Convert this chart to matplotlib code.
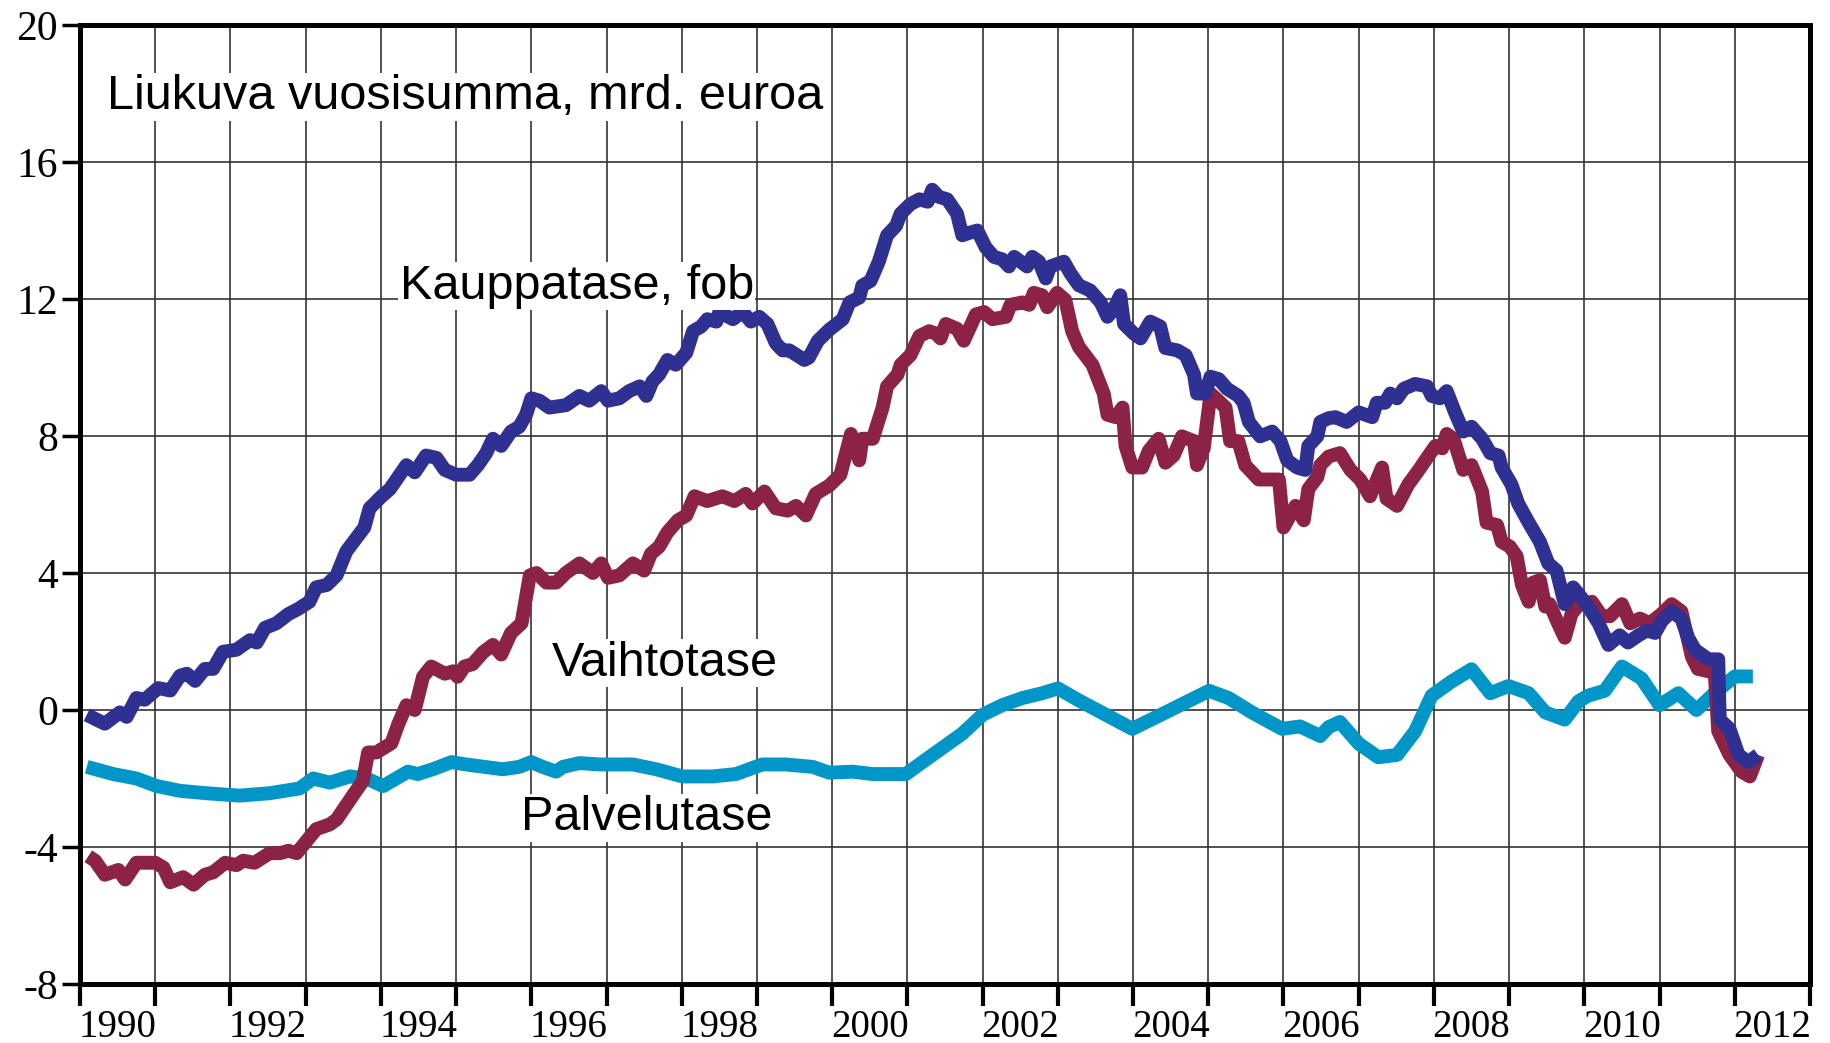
import matplotlib
matplotlib.use("Agg")
import matplotlib.pyplot as plt
import numpy as np

# Kauppatase, fob (liukuva vuosisumma, mrd. euroa)
kauppa_x = [1990.09, 1990.33, 1990.53, 1990.62, 1990.75, 1990.86, 1991.04, 1991.20, 1991.33, 1991.42,
            1991.53, 1991.66, 1991.77, 1991.90, 1992.08, 1992.26, 1992.35, 1992.46, 1992.61, 1992.77,
            1992.90, 1993.05, 1993.14, 1993.28, 1993.41, 1993.54, 1993.78, 1993.85, 1994.01, 1994.12,
            1994.34, 1994.45, 1994.60, 1994.74, 1994.85, 1995.00, 1995.18, 1995.29, 1995.40, 1995.49,
            1995.60, 1995.73, 1995.84, 1995.93, 1996.00, 1996.11, 1996.24, 1996.46, 1996.64, 1996.77,
            1996.93, 1997.02, 1997.17, 1997.30, 1997.44, 1997.53, 1997.61, 1997.70, 1997.81, 1997.92,
            1998.06, 1998.15, 1998.26, 1998.34, 1998.46, 1998.50, 1998.68, 1998.81, 1998.92, 1999.03,
            1999.14, 1999.25, 1999.34, 1999.43, 1999.63, 1999.69, 1999.81, 1999.96, 2000.14, 2000.23,
            2000.36, 2000.40, 2000.51, 2000.62, 2000.73, 2000.85, 2000.91, 2001.04, 2001.16, 2001.27,
            2001.33, 2001.42, 2001.53, 2001.66, 2001.73, 2001.82, 2001.93, 2002.04, 2002.15, 2002.26,
            2002.35, 2002.42, 2002.59, 2002.66, 2002.75, 2002.84, 2002.90, 2003.08, 2003.17, 2003.28,
            2003.43, 2003.57, 2003.66, 2003.74, 2003.83, 2003.88, 2004.01, 2004.10, 2004.23, 2004.36,
            2004.43, 2004.59, 2004.70, 2004.81, 2004.85, 2004.96, 2005.03, 2005.14, 2005.25, 2005.40,
            2005.47, 2005.54, 2005.69, 2005.85, 2005.96, 2006.05, 2006.18, 2006.29, 2006.33, 2006.45,
            2006.49, 2006.60, 2006.69, 2006.84, 2007.00, 2007.18, 2007.24, 2007.35, 2007.42, 2007.51,
            2007.60, 2007.75, 2007.91, 2007.97, 2008.08, 2008.17, 2008.28, 2008.39, 2008.50, 2008.64,
            2008.75, 2008.86, 2008.90, 2009.03, 2009.12, 2009.26, 2009.41, 2009.52, 2009.63, 2009.74,
            2009.85, 2009.92, 2010.05, 2010.19, 2010.32, 2010.47, 2010.58, 2010.72, 2010.83, 2010.94,
            2011.03, 2011.16, 2011.29, 2011.38, 2011.47, 2011.65, 2011.78, 2011.80, 2011.93, 2012.05,
            2012.18, 2012.31]
kauppa_y = [-0.14, -0.40, -0.07, -0.20, 0.35, 0.30, 0.64, 0.57, 1.00, 1.06,
            0.85, 1.20, 1.20, 1.70, 1.76, 2.04, 1.97, 2.40, 2.53, 2.80,
            2.95, 3.16, 3.58, 3.65, 3.93, 4.63, 5.33, 5.89, 6.24, 6.45,
            7.15, 6.94, 7.43, 7.36, 7.01, 6.87, 6.87, 7.15, 7.50, 7.92,
            7.71, 8.13, 8.27, 8.62, 9.10, 9.03, 8.83, 8.90, 9.17, 9.03,
            9.31, 9.03, 9.10, 9.31, 9.45, 9.17, 9.59, 9.80, 10.22, 10.08,
            10.43, 11.06, 11.20, 11.41, 11.34, 11.62, 11.41, 11.62, 11.34, 11.48,
            11.27, 10.71, 10.50, 10.50, 10.22, 10.29, 10.78, 11.10, 11.41, 11.90,
            12.04, 12.39, 12.53, 13.09, 13.86, 14.14, 14.49, 14.77, 14.91, 14.84,
            15.19, 14.98, 14.91, 14.49, 13.86, 13.93, 14.00, 13.51, 13.23, 13.16,
            12.95, 13.23, 12.95, 13.23, 13.09, 12.60, 12.95, 13.09, 12.74, 12.40,
            12.25, 11.90, 11.48, 11.69, 12.11, 11.27, 10.99, 10.85, 11.34, 11.20,
            10.57, 10.50, 10.36, 9.80, 9.24, 9.24, 9.73, 9.66, 9.38, 9.17,
            8.97, 8.41, 7.99, 8.13, 7.85, 7.29, 7.08, 7.01, 7.71, 7.99,
            8.41, 8.52, 8.55, 8.41, 8.69, 8.55, 8.97, 8.97, 9.24, 9.10,
            9.38, 9.52, 9.45, 9.17, 9.10, 9.31, 8.69, 8.13, 8.27, 7.92,
            7.50, 7.43, 7.08, 6.59, 6.03, 5.47, 4.91, 4.28, 4.07, 3.09,
            3.58, 3.40, 3.02, 2.53, 1.90, 2.18, 1.97, 2.18, 2.32, 2.25,
            2.60, 2.88, 2.67, 2.11, 1.76, 1.48, 1.48, -0.28, -0.55, -1.31,
            -1.52, -1.31]

# Vaihtotase
vaihto_x = [1990.11, 1990.20, 1990.33, 1990.51, 1990.60, 1990.75, 1991.00, 1991.11, 1991.20, 1991.37,
            1991.51, 1991.66, 1991.77, 1991.93, 1992.08, 1992.17, 1992.32, 1992.52, 1992.66, 1992.77,
            1992.88, 1993.01, 1993.14, 1993.32, 1993.41, 1993.54, 1993.67, 1993.76, 1993.83, 1993.94,
            1994.14, 1994.23, 1994.34, 1994.45, 1994.56, 1994.67, 1994.85, 1994.96, 1995.02, 1995.11,
            1995.22, 1995.36, 1995.49, 1995.60, 1995.73, 1995.87, 1995.98, 1996.07, 1996.20, 1996.33,
            1996.46, 1996.64, 1996.82, 1996.93, 1997.02, 1997.17, 1997.35, 1997.50, 1997.59, 1997.70,
            1997.81, 1997.95, 1998.06, 1998.17, 1998.34, 1998.54, 1998.70, 1998.85, 1998.94, 1999.10,
            1999.25, 1999.41, 1999.52, 1999.65, 1999.78, 1999.96, 2000.11, 2000.25, 2000.36, 2000.40,
            2000.54, 2000.67, 2000.73, 2000.87, 2000.91, 2001.04, 2001.16, 2001.29, 2001.38, 2001.44,
            2001.51, 2001.66, 2001.75, 2001.91, 2002.02, 2002.13, 2002.31, 2002.37, 2002.53, 2002.62,
            2002.68, 2002.79, 2002.86, 2002.99, 2003.10, 2003.19, 2003.28, 2003.46, 2003.61, 2003.66,
            2003.77, 2003.86, 2003.90, 2003.99, 2004.12, 2004.21, 2004.34, 2004.43, 2004.54, 2004.65,
            2004.81, 2004.85, 2004.94, 2005.03, 2005.10, 2005.23, 2005.29, 2005.40, 2005.49, 2005.67,
            2005.94, 2006.00, 2006.16, 2006.27, 2006.33, 2006.45, 2006.49, 2006.60, 2006.75, 2006.89,
            2007.02, 2007.15, 2007.31, 2007.37, 2007.51, 2007.66, 2007.80, 2007.93, 2008.02, 2008.11,
            2008.17, 2008.26, 2008.39, 2008.50, 2008.64, 2008.70, 2008.84, 2008.90, 2009.01, 2009.10,
            2009.17, 2009.26, 2009.32, 2009.41, 2009.48, 2009.54, 2009.65, 2009.74, 2009.83, 2009.92,
            2010.10, 2010.23, 2010.34, 2010.50, 2010.61, 2010.74, 2010.87, 2011.03, 2011.16, 2011.29,
            2011.43, 2011.51, 2011.65, 2011.73, 2011.78, 2011.93, 2012.09, 2012.20, 2012.31]
vaihto_y = [-4.27, -4.40, -4.81, -4.67, -4.95, -4.46, -4.46, -4.60, -5.03, -4.88,
            -5.10, -4.81, -4.74, -4.46, -4.53, -4.40, -4.46, -4.18, -4.18, -4.11,
            -4.18, -3.83, -3.48, -3.34, -3.20, -2.78, -2.36, -2.08, -1.24, -1.24,
            -0.97, -0.42, 0.14, 0.00, 0.97, 1.27, 1.06, 1.13, 0.97, 1.27,
            1.34, 1.69, 1.90, 1.62, 2.25, 2.53, 3.93, 4.00, 3.72, 3.72,
            4.00, 4.28, 4.00, 4.28, 3.86, 3.93, 4.28, 4.07, 4.56, 4.77,
            5.19, 5.54, 5.68, 6.24, 6.10, 6.24, 6.10, 6.31, 6.03, 6.38,
            5.89, 5.82, 5.96, 5.68, 6.31, 6.55, 6.87, 8.06, 7.29, 7.92,
            7.92, 8.83, 9.45, 9.80, 10.08, 10.36, 10.92, 11.06, 10.99, 10.85,
            11.27, 11.13, 10.78, 11.55, 11.62, 11.41, 11.48, 11.83, 11.90, 11.83,
            12.18, 12.11, 11.76, 12.18, 11.97, 11.06, 10.60, 10.08, 9.24, 8.62,
            8.55, 8.83, 7.71, 7.08, 7.08, 7.57, 7.92, 7.22, 7.43, 7.99,
            7.85, 7.15, 7.64, 9.24, 9.10, 8.83, 7.85, 7.85, 7.15, 6.73,
            6.73, 5.33, 5.96, 5.54, 6.45, 6.80, 7.15, 7.40, 7.50, 7.01,
            6.73, 6.24, 7.08, 6.17, 5.96, 6.59, 7.01, 7.43, 7.71, 7.64,
            8.06, 7.92, 7.01, 7.15, 6.38, 5.47, 5.40, 4.91, 4.77, 4.49,
            3.65, 3.16, 3.72, 3.79, 3.02, 3.09, 2.53, 2.11, 2.81, 3.05,
            3.16, 2.74, 2.74, 3.09, 2.53, 2.67, 2.53, 2.81, 3.09, 2.88,
            1.55, 1.20, 1.13, 1.20, -0.62, -1.31, -1.80, -1.94, -1.31]

# Palvelutase
palvelu_x = [1990.09, 1990.44, 1990.75, 1991.02, 1991.33, 1991.68, 1992.12, 1992.52, 1992.92, 1993.10,
             1993.32, 1993.59, 1993.81, 1994.03, 1994.36, 1994.49, 1994.69, 1994.94, 1995.13, 1995.62,
             1995.84, 1996.00, 1996.15, 1996.33, 1996.42, 1996.64, 1996.91, 1997.35, 1997.66, 1998.01,
             1998.41, 1998.72, 1999.07, 1999.38, 1999.74, 1999.96, 2000.27, 2000.54, 2000.98, 2001.29,
             2001.73, 2002.00, 2002.26, 2002.53, 2002.79, 2003.00, 2003.28, 2003.99, 2004.25, 2005.01,
             2005.27, 2005.58, 2005.98, 2006.22, 2006.49, 2006.60, 2006.75, 2007.00, 2007.26, 2007.51,
             2007.75, 2007.97, 2008.24, 2008.50, 2008.75, 2008.99, 2009.26, 2009.48, 2009.74, 2009.92,
             2010.05, 2010.27, 2010.50, 2010.76, 2011.00, 2011.25, 2011.49, 2011.73, 2012.00, 2012.24]
palvelu_y = [-1.66, -1.87, -2.00, -2.22, -2.36, -2.43, -2.50, -2.43, -2.29, -2.00,
             -2.12, -1.94, -2.00, -2.22, -1.80, -1.87, -1.73, -1.52, -1.59, -1.73,
             -1.66, -1.52, -1.66, -1.80, -1.66, -1.55, -1.59, -1.59, -1.73, -1.94,
             -1.94, -1.87, -1.59, -1.59, -1.66, -1.83, -1.80, -1.87, -1.87, -1.38,
             -0.69, -0.14, 0.14, 0.35, 0.49, 0.63, 0.28, -0.55, -0.27, 0.56,
             0.35, -0.07, -0.55, -0.48, -0.76, -0.50, -0.35, -0.98, -1.38, -1.31,
             -0.62, 0.42, 0.84, 1.19, 0.49, 0.70, 0.49, -0.07, -0.28, 0.25,
             0.42, 0.56, 1.27, 0.92, 0.14, 0.49, 0.00, 0.49, 0.98, 0.98]

years = np.arange(1990, 2014)
label_years = np.arange(1990, 2013, 2)
yticks = np.arange(-8, 21, 4)

fig = plt.figure(figsize=(18.31, 10.43), dpi=100)
ax = fig.add_axes([80 / 1831, 59 / 1043, 1730 / 1831, 959 / 1043])

ax.plot(palvelu_x, palvelu_y, color="#0096C8", lw=10, solid_joinstyle="round", solid_capstyle="butt", zorder=3)
ax.plot(vaihto_x, vaihto_y, color="#8C2346", lw=10, solid_joinstyle="round", solid_capstyle="butt", zorder=4)
ax.plot(kauppa_x, kauppa_y, color="#2E3192", lw=10, solid_joinstyle="round", solid_capstyle="butt", zorder=5)

ax.set_xlim(1990, 2013)
ax.set_ylim(-8, 20)
ax.set_xticks(years)
ax.set_xticklabels([])
ax.set_xticks(label_years + 0.5, minor=True)
ax.set_xticklabels([str(y) for y in label_years], minor=True, fontfamily="Liberation Serif", fontsize=28)
ax.set_yticks(yticks)
ax.set_yticklabels([str(v) for v in yticks], fontfamily="Liberation Serif", fontsize=30)

ax.tick_params(axis="x", which="major", direction="out", length=16, width=3)
ax.tick_params(axis="x", which="minor", length=0, pad=18)
ax.tick_params(axis="y", direction="out", length=13, width=2.5, pad=3)

ax.grid(True, which="major", color="0.2", lw=1.2, zorder=1)
for s in ax.spines.values():
    s.set_linewidth(3.6)

sans = "Liberation Sans"
box = dict(facecolor="white", edgecolor="none", pad=1)
ax.text(1990.36, 17.9, "Liukuva vuosisumma, mrd. euroa", fontfamily=sans, fontsize=35,
        ha="left", va="center", bbox=box, zorder=6)
ax.text(1994.25, 12.37, "Kauppatase, fob", fontfamily=sans, fontsize=35,
        ha="left", va="center", bbox=box, zorder=6)
ax.text(1996.27, 1.36, "Vaihtotase", fontfamily=sans, fontsize=35,
        ha="left", va="center", bbox=box, zorder=6)
ax.text(1995.86, -3.14, "Palvelutase", fontfamily=sans, fontsize=35,
        ha="left", va="center", bbox=box, zorder=6)

fig.savefig("out.png", dpi=100)
